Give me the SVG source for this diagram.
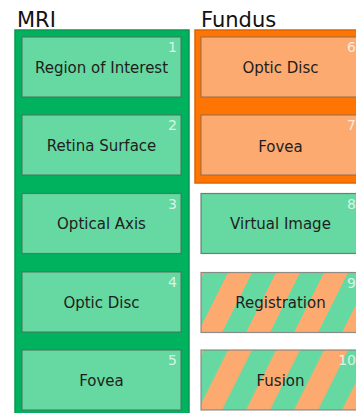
<svg xmlns="http://www.w3.org/2000/svg" width="356" height="413" viewBox="0 0 356 413">
  <defs>
    <pattern id="stripes" patternUnits="userSpaceOnUse" x="3" y="0" width="48" height="192" patternTransform="skewX(-26.57)">
      <rect x="0" y="0" width="24" height="192" fill="#66d8a1"/>
      <rect x="24" y="0" width="24" height="192" fill="#fdaa70"/>
    </pattern>
  </defs>
  <style>
    .title { font-family: "DejaVu Sans", Verdana, sans-serif; font-size: 21px; fill: #111; }
    .label { font-family: "DejaVu Sans", Verdana, sans-serif; font-size: 15px; fill: #1e1e1e; text-anchor: middle; }
    .num { font-family: "DejaVu Sans", Verdana, sans-serif; font-size: 14px; fill: #ffffff; fill-opacity: 0.75; text-anchor: end; }
    .box { stroke: #4d6b5c; stroke-opacity: 0.8; stroke-width: 1.2; }
    .g { fill: #66d8a1; }
    .o { fill: #fdaa70; stroke: #8a6a50; }
    .s { fill: url(#stripes); stroke: #777; }
  </style>
  <rect width="356" height="413" fill="#ffffff"/>

  <g id="mri">
    <rect x="15" y="30" width="174" height="400" fill="#00b25e" stroke="#089a52" stroke-width="1.5"/>
    <text class="title" x="17" y="26.5">MRI</text>
  </g>
  <g id="fundus">
    <rect x="195" y="30" width="180" height="153" fill="#ff7503" stroke="#e06400" stroke-width="1.5"/>
    <text class="title" x="201" y="26.5">Fundus</text>
  </g>

  <g id="connectors"></g>

  <g id="n1" transform="translate(22,37)">
    <rect class="box g" width="159" height="60"/>
    <text class="label" x="79.5" y="35.5">Region of Interest</text>
    <text class="num" x="155" y="15">1</text>
  </g>
  <g id="n2" transform="translate(22,115)">
    <rect class="box g" width="159" height="60"/>
    <text class="label" x="79.5" y="35.5">Retina Surface</text>
    <text class="num" x="155" y="15">2</text>
  </g>
  <g id="n3" transform="translate(22,193.5)">
    <rect class="box g" width="159" height="60"/>
    <text class="label" x="79.5" y="35.5">Optical Axis</text>
    <text class="num" x="155" y="15">3</text>
  </g>
  <g id="n4" transform="translate(22,272)">
    <rect class="box g" width="159" height="60"/>
    <text class="label" x="79.5" y="35.5">Optic Disc</text>
    <text class="num" x="155" y="15">4</text>
  </g>
  <g id="n5" transform="translate(22,350)">
    <rect class="box g" width="159" height="60"/>
    <text class="label" x="79.5" y="35.5">Fovea</text>
    <text class="num" x="155" y="15">5</text>
  </g>

  <g id="n6" transform="translate(201,37)">
    <rect class="box o" width="159" height="60"/>
    <text class="label" x="79.5" y="35.5">Optic Disc</text>
    <text class="num" x="155" y="15">6</text>
  </g>
  <g id="n7" transform="translate(201,115)">
    <rect class="box o" width="159" height="60"/>
    <text class="label" x="79.5" y="36.5">Fovea</text>
    <text class="num" x="155" y="15">7</text>
  </g>
  <g id="n8" transform="translate(201,193.5)">
    <rect class="box g" width="159" height="60"/>
    <text class="label" x="79.5" y="35.5">Virtual Image</text>
    <text class="num" x="155" y="15">8</text>
  </g>
  <g id="n9" transform="translate(201,272.5)">
    <rect class="box s" width="159" height="60"/>
    <text class="label" x="79.5" y="35.5">Registration</text>
    <text class="num" x="155" y="15">9</text>
  </g>
  <g id="n10" transform="translate(201,350)">
    <rect class="box s" width="159" height="60"/>
    <text class="label" x="79.5" y="35.5">Fusion</text>
    <text class="num" x="155" y="15">10</text>
  </g>
</svg>
